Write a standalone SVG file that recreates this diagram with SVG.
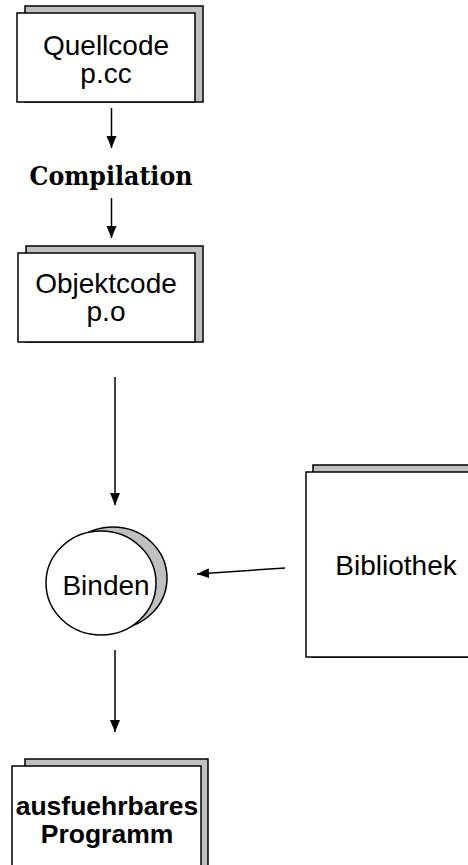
<svg xmlns="http://www.w3.org/2000/svg" width="468" height="865" viewBox="0 0 468 865">
<style>
.sh{fill:#c0c0c0;stroke:#000;stroke-width:1.5}
.fr{fill:#fff;stroke:#000;stroke-width:1.5}
.t{font-family:"Liberation Sans",Arial,sans-serif;font-size:28px;fill:#000;text-anchor:middle}
.b{font-weight:bold;font-size:26.5px}
.s{font-family:"DejaVu Serif Condensed","DejaVu Serif","Liberation Serif",serif;font-size:26px;font-weight:bold;fill:#000;text-anchor:middle}
.c{stroke:#000;stroke-width:1.5;fill:none}
</style>
<defs>
<marker id="ah" markerUnits="userSpaceOnUse" markerWidth="14" markerHeight="12" refX="12" refY="5" orient="auto">
<path d="M0,0 L12,5 L0,10 Z" fill="#000"/>
</marker>
</defs>
<rect width="468" height="865" fill="#fff"/>
<g id="quellcode">
<rect class="sh" x="25" y="6" width="178" height="96"/>
<rect class="fr" x="17" y="13" width="178" height="89"/>
<text class="t" x="106" y="55">Quellcode</text>
<text class="t" x="106" y="83">p.cc</text>
</g>
<g id="compilation">
<text class="s" x="111" y="185" textLength="163" lengthAdjust="spacingAndGlyphs">Compilation</text>
</g>
<g id="objektcode">
<rect class="sh" x="26" y="246" width="177" height="96"/>
<rect class="fr" x="18" y="253" width="177" height="89"/>
<text class="t" x="106" y="293">Objektcode</text>
<text class="t" x="106" y="321">p.o</text>
</g>
<g id="binden">
<ellipse class="sh" cx="113" cy="578" rx="54" ry="51"/>
<ellipse class="fr" cx="101" cy="583" rx="55" ry="52"/>
<text class="t" x="106" y="595">Binden</text>
</g>
<g id="bibliothek">
<rect class="sh" x="313" y="465" width="170" height="192"/>
<rect class="fr" x="306" y="472" width="170" height="185"/>
<text class="t" x="396" y="575">Bibliothek</text>
</g>
<g id="programm">
<rect class="sh" x="25" y="759" width="183" height="120"/>
<rect class="fr" x="12" y="766" width="189" height="120"/>
<text class="t b" x="107" y="815">ausfuehrbares</text>
<text class="t b" x="107" y="843">Programm</text>
</g>
<g id="connectors">
<line class="c" x1="111.5" y1="108" x2="111.5" y2="148" marker-end="url(#ah)"/>
<line class="c" x1="111.5" y1="198" x2="111.5" y2="238" marker-end="url(#ah)"/>
<line class="c" x1="115" y1="377" x2="115" y2="505" marker-end="url(#ah)"/>
<line class="c" x1="285" y1="568" x2="197" y2="574" marker-end="url(#ah)"/>
<line class="c" x1="115" y1="650" x2="115" y2="732" marker-end="url(#ah)"/>
</g>
</svg>
